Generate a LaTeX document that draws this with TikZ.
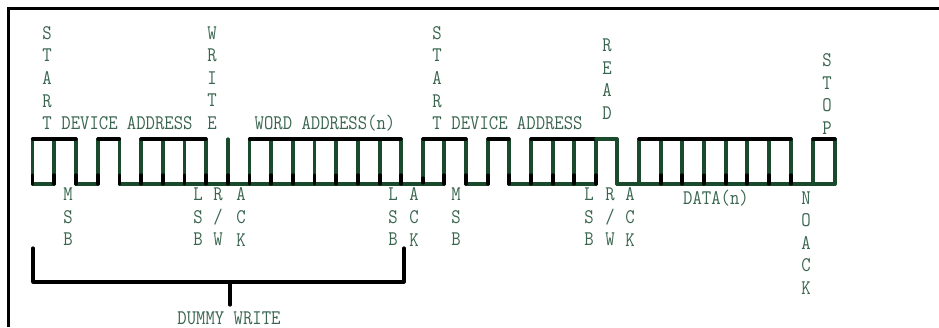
\documentclass[tikz,border=0pt]{standalone}
\usepackage{fontspec}
\newfontfamily\lblfont[FakeStretch=0.875]{Latin Modern Mono}
\definecolor{wavegreen}{HTML}{1A4A2C}
\definecolor{labelgreen}{HTML}{3A6650}
\tikzset{
  lbl/.style={inner sep=0pt,outer sep=0pt,text=labelgreen,font=\lblfont\fontsize{20.8}{22.6}\selectfont},
  stack/.style={lbl,align=center},
  frameline/.style={line width=3.2pt,black},
  bracketline/.style={line width=3.2pt,black,line cap=round,line join=round},
  vert/.style={line width=3.2pt,wavegreen,line cap=round},
  stub/.style={line width=3.2pt,black,line cap=round},
  high/.style={line width=3.2pt,black,line cap=round},
  low/.style={line width=3.2pt,wavegreen,line cap=round}
}
\begin{document}
\begin{tikzpicture}[x=1pt,y=-1pt]
\useasboundingbox (0,0) rectangle (939,327);
\fill[white] (0,0) rectangle (939,327);
\coordinate (fb) at (8.5,327);
\coordinate (fc) at (8.5,8.5);
\coordinate (fr) at (939,8.5);
\draw[frameline] (fb) -- (fc) -- (fr);
% low level
\foreach \a/\b in {32.5/54,76/98,119.5/444,466/488,509/596,617/835}
  \draw[low] (\a,184) -- (\b,184);
% verticals
\foreach \x in {32.5,54,76,98,119.5,141,163,184.5,206,228,249.5,271,293,314.5,336,358,380,401,423,444,466,488,509,531,553,574,596,617,639,661,682,704,726,747,769,791,813,835}
  \draw[vert] (\x,139) -- (\x,184);
% darker lower ends
\foreach \x in {32.5,54,76,98,119.5,141,163,184.5,206,228,249.5,271,293,314.5,336,358,380,401,444,466,488,509,531,553,574,596,661,682,704,726,747,769,791}
  \draw[stub] (\x,175) -- (\x,184);
\draw[stub] (423,178) -- (423,183);
% high level
\foreach \a/\b in {32.5/76,98/119.5,141/206,249.5/401,423/466,488/509,531/596,639/791,813/835}
  \draw[high] (\a,139) -- (\b,139);
\draw[low] (596,139) -- (617,139);
% labels above
\node[stack] (start1) at (47,78) {S\\T\\A\\R\\T};
\node[stack] (write) at (212,78) {W\\R\\I\\T\\E};
\node[stack] (start2) at (437,78) {S\\T\\A\\R\\T};
\node[stack] (read) at (607,79) {R\\E\\A\\D};
\node[stack] (stop) at (827,94) {S\\T\\O\\P};
\node[lbl] (dev1) at (127,123) {DEVICE ADDRESS};
\node[lbl] (word) at (325,123) {WORD ADDRESS(n)};
\node[lbl] (dev2) at (517,123) {DEVICE ADDRESS};
% labels below
\node[stack] (msb1) at (68,217) {M\\S\\B};
\node[stack] (lsb1) at (198,217) {L\\S\\B};
\node[stack] (rw1) at (218,217) {R\\/\\W};
\node[stack] (ack1) at (241,217) {A\\C\\K};
\node[stack] (lsb2) at (393,217) {L\\S\\B};
\node[stack] (ack2) at (414,217) {A\\C\\K};
\node[stack] (msb2) at (456,217) {M\\S\\B};
\node[stack] (lsb3) at (589,217) {L\\S\\B};
\node[stack] (rw2) at (610,217) {R\\/\\W};
\node[stack] (ack3) at (630,217) {A\\C\\K};
\node[lbl] (data) at (716,198) {DATA(n)};
\node[stack] (noack) at (806,243) {N\\O\\A\\C\\K};
% bracket
\coordinate (bl) at (33,248);
\coordinate (bbl) at (33,282);
\coordinate (br) at (404,248);
\coordinate (bbr) at (404,282);
\coordinate (bm) at (230,282);
\node[lbl] (dummy) at (229,318) {DUMMY WRITE};
\coordinate (bs) at (230,305);
\draw[bracketline] (bl) -- (bbl) -- (bbr) -- (br);
\draw[bracketline] (bm) -- (bs);
\end{tikzpicture}
\end{document}
